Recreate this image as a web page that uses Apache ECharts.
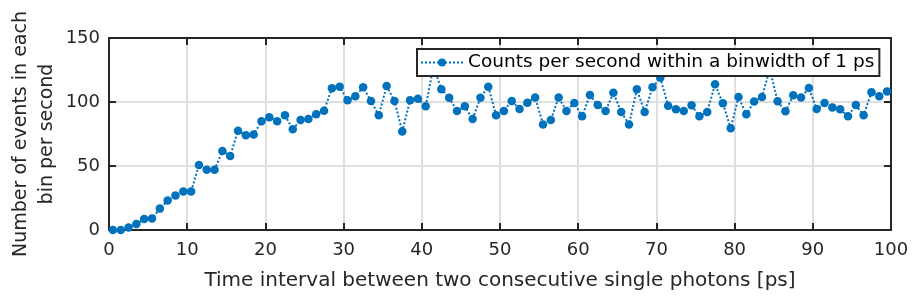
<!DOCTYPE html>
<html>
<head>
<meta charset="utf-8">
<script src="https://cdn.jsdelivr.net/npm/echarts@6/dist/echarts.min.js"></script>
<style>
html,body{margin:0;padding:0;background:#fff;}
#chart{width:919px;height:297px;}
</style>
</head>
<body>
<div id="chart"></div>
<script>
// Bin centres (ps)
var binCenters = [0.5,1.5,2.5,3.5,4.5,5.5,6.5,7.5,8.5,9.5,
  10.5,11.5,12.5,13.5,14.5,15.5,16.5,17.5,18.5,19.5,
  20.5,21.5,22.5,23.5,24.5,25.5,26.5,27.5,28.5,29.5,
  30.5,31.5,32.5,33.5,34.5,35.5,36.5,37.5,38.5,39.5,
  40.5,41.5,42.5,43.5,44.5,45.5,46.5,47.5,48.5,49.5,
  50.5,51.5,52.5,53.5,54.5,55.5,56.5,57.5,58.5,59.5,
  60.5,61.5,62.5,63.5,64.5,65.5,66.5,67.5,68.5,69.5,
  70.5,71.5,72.5,73.5,74.5,75.5,76.5,77.5,78.5,79.5,
  80.5,81.5,82.5,83.5,84.5,85.5,86.5,87.5,88.5,89.5,
  90.5,91.5,92.5,93.5,94.5,95.5,96.5,97.5,98.5,99.5];
// Counts per second within a binwidth of 1 ps
var counts = [0,0,2,4.7,8.6,9,16.7,23,27,30,
  30,50.8,47,47,61.7,57.8,77.6,74,74.7,85,
  88,85,89.6,78.8,86,86.7,90.4,93.2,110.7,112,
  101.3,104.4,111.5,100.8,89.6,112.5,100.8,77,101.3,102.6,
  96.6,128,109.9,103.4,93,96.6,86.7,103.4,112,89.6,
  93,100.8,94.5,99.5,103.6,82.5,86,103.6,93,99.2,
  88.8,105.5,97.7,93,107.3,92.2,82.5,109.9,92.2,111.5,
  119,97,94.3,93,97.4,88.8,92.2,113.8,99,79.4,
  103.9,90.4,100.3,103.9,126,100.5,92.7,105.2,103.6,110.9,
  94.5,99.2,95.8,94.3,88.8,97.7,89.6,107.6,104.4,108.3];
var xTicks = {min:0, max:100, interval:10};
var yTicks = {min:0, max:150, interval:50};
var seriesName = 'Counts per second within a binwidth of 1 ps';
var xTitle = 'Time interval between two consecutive single photons [ps]';
var yTitle = 'Number of events in each\nbin per second';

var pts = binCenters.map(function(x,i){return [x, counts[i]];});
var FONT = 'DejaVu Sans';
var AX = '#262626';
var chart = echarts.init(document.getElementById('chart'), null, {renderer:'canvas'});
var common = {
  axisLine:{show:true, onZero:false, lineStyle:{color:AX, width:2}},
  axisTick:{show:true, inside:true, length:7, lineStyle:{color:AX, width:2}}
};
chart.setOption({
  animation:false,
  backgroundColor:'#fff',
  grid:{left:109, right:28, top:38, bottom:67, containLabel:false, outerBoundsMode:'none'},
  legend:{
    show:true, left:417, top:49, z:20, zlevel:1,
    padding:[4,5,4,3], itemGap:0,
    itemWidth:42, itemHeight:10,
    backgroundColor:'#ffffff', borderColor:AX, borderWidth:2, borderRadius:0,
    textStyle:{fontFamily:FONT, fontSize:18.5, color:'#000', lineHeight:19},
    data:[seriesName]
  },
  xAxis:[{
    type:'value', position:'bottom', min:xTicks.min, max:xTicks.max, interval:xTicks.interval,
    axisLine:common.axisLine, axisTick:common.axisTick,
    axisLabel:{show:true, margin:11, fontFamily:FONT, fontSize:18, color:AX},
    splitLine:{show:true, lineStyle:{color:'#dfdfdf', width:2}},
    name:xTitle, nameLocation:'middle', nameGap:41, nameMoveOverlap:false,
    nameTextStyle:{fontFamily:FONT, fontSize:20, color:AX}
  },{
    type:'value', position:'top', min:xTicks.min, max:xTicks.max, interval:xTicks.interval,
    axisLine:common.axisLine, axisTick:common.axisTick,
    axisLabel:{show:false}, splitLine:{show:false}
  }],
  yAxis:[{
    type:'value', position:'left', min:yTicks.min, max:yTicks.max, interval:yTicks.interval,
    axisLine:common.axisLine, axisTick:common.axisTick,
    axisLabel:{show:true, margin:9, fontFamily:FONT, fontSize:18, color:AX},
    splitLine:{show:true, lineStyle:{color:'#dfdfdf', width:2}},
    name:yTitle, nameLocation:'middle', nameGap:49, nameRotate:90, nameMoveOverlap:false,
    nameTextStyle:{fontFamily:FONT, fontSize:19, color:AX, lineHeight:26, align:'center'}
  },{
    type:'value', position:'right', min:yTicks.min, max:yTicks.max, interval:yTicks.interval,
    axisLine:common.axisLine, axisTick:common.axisTick,
    axisLabel:{show:false}, splitLine:{show:false}
  }],
  series:[{
    name:seriesName, type:'line', xAxisIndex:0, yAxisIndex:0,
    data:pts, symbol:'circle', symbolSize:8.5, showSymbol:true,
    lineStyle:{color:'#0072BD', width:2, type:'dotted'},
    itemStyle:{color:'#0072BD'},
    clip:false, z:2
  }]
});
</script>
</body>
</html>
